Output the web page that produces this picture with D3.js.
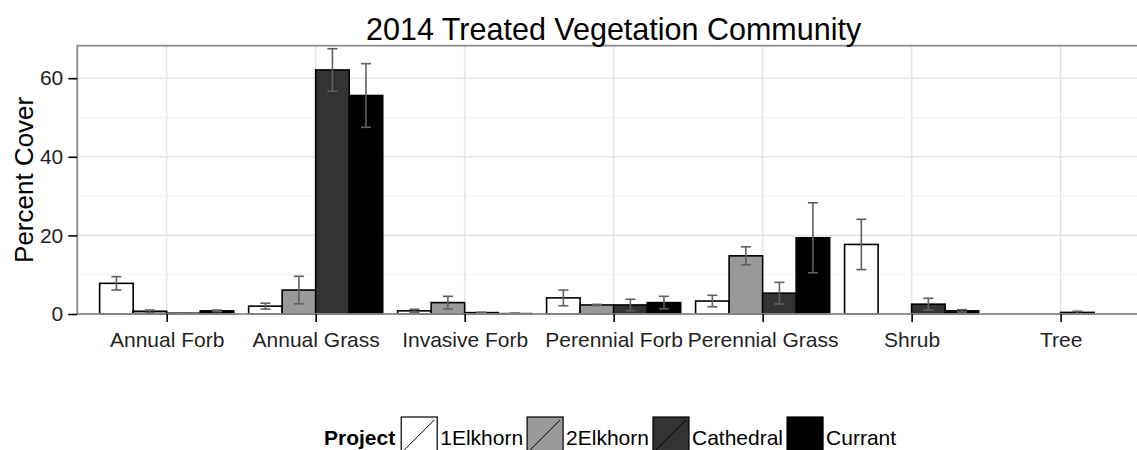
<!DOCTYPE html>
<html>
<head>
<meta charset="utf-8">
<script src="https://cdn.jsdelivr.net/npm/d3@7"></script>
<style>
  html, body { margin: 0; padding: 0; background: #fff; }
  svg { display: block; }
  text { font-family: "Liberation Sans", Arial, sans-serif; }
</style>
</head>
<body>
<svg id="chart" width="1137" height="450"></svg>
<script>
// ---- data ----
const categories = ["Annual Forb", "Annual Grass", "Invasive Forb", "Perennial Forb", "Perennial Grass", "Shrub", "Tree"];
const projects = ["1Elkhorn", "2Elkhorn", "Cathedral", "Currant"];
const projectFills = ["#FFFFFF", "#999999", "#333333", "#000000"];

// mean percent cover per category (null = no record)
const elkhorn1 = [7.8, 2.0, 0.8, 4.1, 3.3, 17.7, null];
const elkhorn2 = [0.7, 6.1, 2.9, 2.3, 14.8, null, null];
const cathedral = [0.2, 62.1, 0.35, 2.3, 5.3, 2.5, 0.4];
const currant = [0.8, 55.6, 0.1, 2.9, 19.4, 0.8, null];

// standard errors
const elkhorn1Se = [1.7, 0.75, 0.4, 2.0, 1.45, 6.4, null];
const elkhorn2Se = [0.3, 3.5, 1.6, 0.15, 2.3, null, null];
const cathedralSe = [0.1, 5.4, 0.1, 1.45, 2.75, 1.5, 0.3];
const currantSe = [0.2, 8.1, 0.15, 1.6, 8.9, 0.3, null];

const yTicks = [0, 20, 40, 60];
const yMinor = [10, 30, 50];
const titleText = "2014 Treated Vegetation Community";
const yTitle = "Percent Cover";
const legendTitle = "Project";

const seriesMeans = [elkhorn1, elkhorn2, cathedral, currant];
const seriesSe = [elkhorn1Se, elkhorn2Se, cathedralSe, currantSe];

const records = [];
projects.forEach((p, pi) => {
  categories.forEach((c, ci) => {
    const v = seriesMeans[pi][ci];
    if (v === null) return;
    records.push({ project: p, category: c, value: v, se: seriesSe[pi][ci] });
  });
});

// ---- layout ----
const svg = d3.select("#chart");
const panel = { left: 77.3, right: 1150, top: 45.7, bottom: 314 };

const x = d3.scalePoint().domain(categories).range([panel.left, panel.right]).padding(0.6);
const step = x.step();
const xInner = d3.scaleBand().domain(projects).range([-0.45 * step, 0.45 * step]);
const y = d3.scaleLinear().domain([0, 68.27]).range([panel.bottom, panel.top]);
const fill = d3.scaleOrdinal().domain(projects).range(projectFills);

// grid
const grid = svg.append("g");
grid.selectAll("line.minor").data(yMinor).join("line")
  .attr("x1", panel.left).attr("x2", panel.right)
  .attr("y1", d => y(d)).attr("y2", d => y(d))
  .attr("stroke", "#f3f3f3").attr("stroke-width", 1);
grid.selectAll("line.major").data(yTicks).join("line")
  .attr("x1", panel.left).attr("x2", panel.right)
  .attr("y1", d => y(d)).attr("y2", d => y(d))
  .attr("stroke", "#e6e6e6").attr("stroke-width", 1.6);
grid.selectAll("line.vmajor").data(categories).join("line")
  .attr("x1", d => x(d)).attr("x2", d => x(d))
  .attr("y1", panel.top).attr("y2", panel.bottom)
  .attr("stroke", "#e6e6e6").attr("stroke-width", 1.6);

// bars
svg.append("g").selectAll("rect").data(records).join("rect")
  .attr("x", d => x(d.category) + xInner(d.project))
  .attr("width", xInner.bandwidth())
  .attr("y", d => y(d.value))
  .attr("height", d => y(0) - y(d.value))
  .attr("fill", d => fill(d.project))
  .attr("stroke", "#000").attr("stroke-width", 1.6);

// error bars
const eb = svg.append("g").attr("stroke", "#606060").attr("stroke-width", 1.6).attr("fill", "none");
const capHalf = 5;
records.forEach(d => {
  if (d.se === null) return;
  const cx = x(d.category) + xInner(d.project) + xInner.bandwidth() / 2;
  const yHi = y(d.value + d.se), yLo = y(Math.max(0, d.value - d.se));
  eb.append("line").attr("x1", cx).attr("x2", cx).attr("y1", yHi).attr("y2", yLo);
  eb.append("line").attr("x1", cx - capHalf).attr("x2", cx + capHalf).attr("y1", yHi).attr("y2", yHi);
  eb.append("line").attr("x1", cx - capHalf).attr("x2", cx + capHalf).attr("y1", yLo).attr("y2", yLo);
});

// panel border
svg.append("rect")
  .attr("x", panel.left).attr("y", panel.top)
  .attr("width", panel.right - panel.left).attr("height", panel.bottom - panel.top)
  .attr("fill", "none").attr("stroke", "#8c8c8c").attr("stroke-width", 1.8);

// x axis
const xAxis = svg.append("g").attr("transform", `translate(0,${panel.bottom})`)
  .call(d3.axisBottom(x).tickSizeInner(8).tickSizeOuter(0).tickPadding(10));
xAxis.select(".domain").remove();
xAxis.selectAll(".tick line").attr("stroke", "#000").attr("stroke-width", 1.6);
xAxis.selectAll(".tick text").attr("font-size", "21px").attr("fill", "#1f1f1f")
  .attr("font-family", "'Liberation Sans', Arial, sans-serif");

// y axis
const yAxis = svg.append("g").attr("transform", `translate(${panel.left},0)`)
  .call(d3.axisLeft(y).tickValues(yTicks).tickSizeInner(9).tickSizeOuter(0).tickPadding(5));
yAxis.select(".domain").remove();
yAxis.selectAll(".tick line").attr("stroke", "#000").attr("stroke-width", 1.6);
yAxis.selectAll(".tick text").attr("font-size", "21px").attr("fill", "#1f1f1f")
  .attr("font-family", "'Liberation Sans', Arial, sans-serif");

// titles
svg.append("text")
  .attr("x", (panel.left + panel.right) / 2).attr("y", 40)
  .attr("text-anchor", "middle").attr("font-size", "30.5px").attr("fill", "#000")
  .text(titleText);

svg.append("text")
  .attr("transform", `translate(33,${(panel.top + panel.bottom) / 2}) rotate(-90)`)
  .attr("text-anchor", "middle").attr("font-size", "26px").attr("fill", "#000")
  .text(yTitle);

// legend
const lg = svg.append("g");
let lx = 324;
const keySize = 36, keyTop = 417, textBase = 445;
const lt = lg.append("text").attr("x", lx).attr("y", textBase)
  .attr("font-size", "21px").attr("font-weight", "bold").attr("fill", "#000").text(legendTitle);
lx += lt.node().getComputedTextLength() + 6;
projects.forEach((p, i) => {
  lg.append("rect").attr("x", lx).attr("y", keyTop).attr("width", keySize).attr("height", keySize)
    .attr("fill", fill(p)).attr("stroke", "#000").attr("stroke-width", 1.2);
  lg.append("line").attr("x1", lx + 3).attr("y1", keyTop + keySize - 3).attr("x2", lx + keySize - 3).attr("y2", keyTop + 3)
    .attr("stroke", "#000").attr("stroke-width", 1);
  lx += keySize + 3;
  const t = lg.append("text").attr("x", lx).attr("y", textBase)
    .attr("font-size", "21px").attr("fill", "#000").text(p);
  lx += t.node().getComputedTextLength() + 4;
});
</script>
</body>
</html>
